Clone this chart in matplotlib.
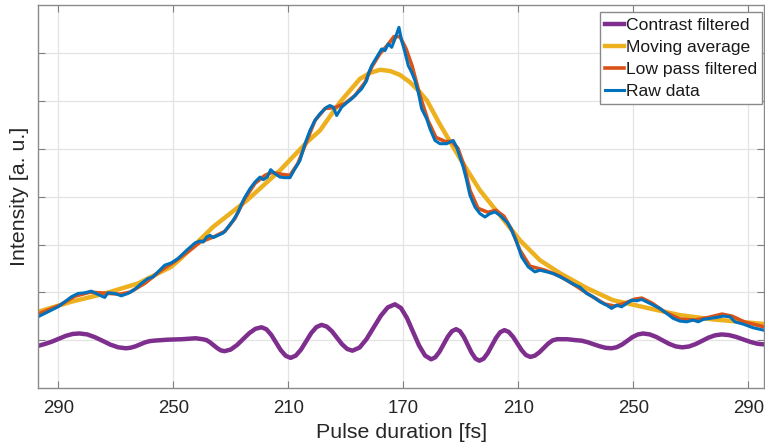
import matplotlib
matplotlib.use("Agg")
import matplotlib.pyplot as plt

# delay in fs relative to the pulse centre, intensity in arbitrary units
raw_delay = [-127.06, -123.58, -120.11, -117.78, -115.48, -113.15, -110.82, -108.52, -106.19, -103.86,
             -102.71, -100.38, -98.09, -95.76, -93.43, -91.13, -88.80, -87.06, -85.32, -82.99,
             -80.70, -78.37, -75.34, -72.45, -70.71, -69.57, -68.38, -67.24, -66.09, -64.35,
             -62.61, -60.87, -59.13, -57.39, -56.21, -55.06, -53.32, -51.58, -49.84, -48.70,
             -47.30, -46.12, -44.63, -42.89, -41.15, -39.41, -37.67, -35.93, -34.19, -32.45,
             -30.71, -28.97, -26.64, -25.50, -24.35, -23.17, -21.43, -19.69, -17.95, -16.21,
             -14.47, -12.73, -12.17, -10.99, -9.25, -7.51, -6.37, -5.22, -4.03, -2.89,
             -1.50, -0.56, 0.59, 1.74, 2.92, 4.07, 5.22, 6.40, 8.14, 9.29,
             11.03, 12.77, 15.10, 17.39, 18.57, 19.72, 20.87, 22.05, 23.20, 24.94,
             26.68, 28.42, 30.16, 31.90, 33.64, 35.37, 36.52, 37.70, 39.44, 41.18,
             43.48, 45.81, 47.55, 49.88, 52.17, 54.50, 56.84, 59.13, 61.46, 63.79,
             66.09, 68.42, 70.75, 72.49, 74.23, 75.97, 77.71, 79.44, 81.18, 82.92,
             84.66, 86.96, 89.29, 91.62, 93.91, 96.24, 98.58, 100.87, 102.61, 104.35,
             106.68, 109.01, 111.31, 113.64, 115.38, 118.26, 121.74, 125.22]
raw_intensity = [1.489, 1.593, 1.697, 1.802, 1.906, 1.977, 1.990, 2.025, 1.956, 1.894,
                 1.990, 1.977, 1.927, 1.977, 2.061, 2.186, 2.290, 2.324, 2.428, 2.568,
                 2.616, 2.708, 2.881, 3.033, 3.075, 3.054, 3.159, 3.194, 3.146, 3.194,
                 3.242, 3.367, 3.507, 3.681, 3.856, 3.994, 4.169, 4.307, 4.411, 4.357,
                 4.411, 4.566, 4.482, 4.411, 4.399, 4.399, 4.587, 4.760, 5.109, 5.386,
                 5.595, 5.735, 5.873, 5.908, 5.873, 5.699, 5.873, 5.965, 6.048, 6.152,
                 6.257, 6.430, 6.570, 6.743, 6.917, 7.092, 7.056, 7.196, 7.125, 7.301,
                 7.543, 7.265, 7.021, 6.743, 6.603, 6.430, 6.186, 5.839, 5.630, 5.422,
                 5.177, 5.109, 5.109, 5.177, 5.038, 4.829, 4.620, 4.342, 4.029, 3.785,
                 3.647, 3.576, 3.647, 3.681, 3.612, 3.507, 3.438, 3.299, 3.054, 2.741,
                 2.532, 2.428, 2.463, 2.428, 2.395, 2.324, 2.255, 2.171, 2.109, 1.977,
                 1.906, 1.802, 1.733, 1.664, 1.733, 1.697, 1.768, 1.837, 1.823, 1.852,
                 1.802, 1.733, 1.664, 1.560, 1.455, 1.399, 1.384, 1.420, 1.384, 1.434,
                 1.455, 1.476, 1.503, 1.489, 1.384, 1.336, 1.259, 1.211]

lowpass_delay = [-127.06, -119.41, -114.19, -108.97, -103.76, -98.54, -95.06, -89.84, -84.63, -79.41,
                 -74.19, -70.71, -65.50, -62.02, -58.54, -55.06, -51.58, -48.10, -45.67, -42.19,
                 -39.41, -36.63, -34.19, -30.71, -27.23, -23.76, -20.28, -16.80, -13.32, -10.89,
                 -8.10, -5.32, -3.23, -1.15, 0.94, 3.03, 5.81, 8.59, 11.37, 14.50,
                 16.94, 19.03, 21.11, 23.20, 25.98, 29.46, 32.24, 35.03, 37.81, 40.59,
                 44.07, 49.29, 54.50, 59.72, 64.94, 70.16, 73.63, 77.11, 80.59, 83.03,
                 86.51, 91.03, 96.24, 101.46, 106.68, 110.85, 114.33, 118.85, 125.81]
lowpass_intensity = [1.545, 1.733, 1.921, 2.004, 1.983, 1.962, 2.004, 2.192, 2.443, 2.651,
                     2.881, 3.048, 3.173, 3.278, 3.549, 3.967, 4.280, 4.447, 4.509, 4.468,
                     4.447, 4.697, 5.073, 5.595, 5.846, 5.866, 5.950, 6.117, 6.388, 6.722,
                     6.994, 7.182, 7.349, 7.349, 7.098, 6.743, 6.117, 5.595, 5.240, 5.157,
                     5.157, 5.010, 4.656, 4.134, 3.758, 3.674, 3.716, 3.591, 3.299, 2.881,
                     2.547, 2.463, 2.338, 2.150, 1.942, 1.754, 1.712, 1.775, 1.858, 1.879,
                     1.775, 1.587, 1.441, 1.420, 1.482, 1.545, 1.503, 1.378, 1.273]

movavg_delay = [-127.06, -115.58, -103.76, -92.28, -80.80, -77.67, -66.19, -54.37, -42.89, -33.50,
                -28.97, -22.02, -15.06, -11.60, -8.10, -4.60, -1.20, 2.33, 5.30, 8.24,
                12.77, 19.72, 26.68, 33.64, 40.59, 47.55, 54.50, 63.90, 72.94, 84.77,
                96.24, 107.72, 119.55, 125.81]
movavg_intensity = [1.593, 1.802, 1.977, 2.186, 2.532, 2.693, 3.367, 3.925, 4.551, 5.142,
                    5.386, 5.977, 6.466, 6.590, 6.655, 6.630, 6.550, 6.395, 6.220, 6.013,
                    5.511, 4.802, 4.134, 3.612, 3.090, 2.672, 2.401, 2.088, 1.837, 1.676,
                    1.524, 1.434, 1.372, 1.336]

contrast_delay = [-127.1, -124.7, -122.2, -119.8, -117.4, -115.0, -112.6,
                  -109.9, -107.2, -104.55, -101.9, -99.2, -96.5,
                  -94.9, -93.2, -91.6, -90.0, -88.3, -86.7,
                  -82.0, -77.0, -72.2, -69.8,
                  -68.5, -67.3, -66.0, -64.7, -63.5, -62.2,
                  -60.05, -57.9, -55.75, -53.6, -51.45, -49.3,
                  -47.6, -45.9, -44.25, -42.6, -40.9, -39.2,
                  -37.4, -35.6, -33.8, -32.0, -30.2, -28.4,
                  -26.6, -24.8, -23.05, -21.3, -19.5, -17.7,
                  -15.2, -12.8, -10.3, -7.8, -5.4, -2.9,
                  -0.8, 1.3, 3.4, 5.5, 7.6, 9.7,
                  11.15, 12.6, 14.05, 15.5, 16.95, 18.4,
                  19.75, 21.1, 22.45, 23.8, 25.15, 26.5,
                  27.95, 29.4, 30.85, 32.3, 33.75, 35.2,
                  36.7, 38.2, 39.7, 41.2, 42.7, 44.2,
                  45.75, 47.3, 48.85, 50.4, 51.95, 53.5,
                  57.0, 60.0,
                  62.07, 64.1, 66.2, 68.3, 70.3, 72.4,
                  74.2, 76.1, 77.9, 79.7, 81.6, 83.4,
                  85.7, 88.0, 90.25, 92.5, 94.8, 97.1,
                  99.4, 101.7, 103.95, 106.2, 108.5, 110.8,
                  113.3, 115.8, 118.3, 120.8, 123.3, 125.8]
contrast_intensity = [0.88, 0.92, 0.97, 1.03, 1.09, 1.13, 1.14,
                      1.12, 1.06, 0.985, 0.907, 0.851, 0.83,
                      0.841, 0.87, 0.91, 0.95, 0.979, 0.99,
                      1.01, 1.02, 1.04, 1.02,
                      1.003, 0.958, 0.895, 0.833, 0.787, 0.77,
                      0.803, 0.895, 1.02, 1.145, 1.237, 1.27,
                      1.227, 1.11, 0.95, 0.79, 0.673, 0.63,
                      0.676, 0.80, 0.975, 1.15, 1.274, 1.32,
                      1.284, 1.185, 1.05, 0.915, 0.816, 0.78,
                      0.845, 1.02, 1.265, 1.51, 1.685, 1.75,
                      1.673, 1.463, 1.175, 0.888, 0.677, 0.60,
                      0.642, 0.758, 0.915, 1.073, 1.188, 1.23,
                      1.186, 1.065, 0.90, 0.735, 0.614, 0.57,
                      0.613, 0.73, 0.89, 1.05, 1.167, 1.21,
                      1.172, 1.07, 0.93, 0.79, 0.688, 0.65,
                      0.675, 0.743, 0.835, 0.928, 0.995, 1.02,
                      1.02, 1.00,
                      0.989, 0.958, 0.915, 0.873, 0.841, 0.83,
                      0.851, 0.908, 0.985, 1.063, 1.119, 1.14,
                      1.121, 1.068, 0.995, 0.923, 0.869, 0.85,
                      0.868, 0.918, 0.985, 1.053, 1.102, 1.12,
                      1.106, 1.068, 1.015, 0.963, 0.924, 0.91]

tick_delay = [-120, -80, -40, 0, 40, 80, 120]
tick_labels = ['290', '250', '210', '170', '210', '250', '290']

plt.rcParams['font.family'] = ['Liberation Sans', 'DejaVu Sans']

fig = plt.figure(figsize=(7.65, 4.43), dpi=100)
ax = fig.add_axes([0.0503, 0.1242, 0.9484, 0.8634])

ax.plot(contrast_delay, contrast_intensity, color='#7E2F8E', lw=3.2, label='Contrast filtered')
ax.plot(movavg_delay, movavg_intensity, color='#EDB120', lw=3.2, label='Moving average')
ax.plot(lowpass_delay, lowpass_intensity, color='#D95319', lw=2.6, label='Low pass filtered')
ax.plot(raw_delay, raw_intensity, color='#0072BD', lw=2.2, label='Raw data')

ax.set_xlim(-126.9, 125.5)
ax.set_ylim(0, 8)
ax.set_xticks(tick_delay)
ax.set_xticklabels(tick_labels)
ax.set_yticks(range(1, 8))
ax.set_yticklabels([])
ax.grid(True, color='#e3e3e3', lw=0.9)
ax.set_axisbelow(True)

ax.tick_params(direction='in', length=5, width=0.8, color='#808080',
               labelsize=13.4, labelcolor='#262626', pad=9,
               top=True, right=True)
for s in ax.spines.values():
    s.set_color('#8a8a8a')
    s.set_linewidth(1.0)

ax.set_xlabel('Pulse duration [fs]', fontsize=15.4, color='#262626', labelpad=4)
ax.set_ylabel('Intensity [a. u.]', fontsize=15.4, color='#262626', labelpad=-2)

leg = ax.legend(loc='upper right', bbox_to_anchor=(0.9977, 0.9822), borderaxespad=0,
                fontsize=12.6, handlelength=1.1, handletextpad=0.1, labelspacing=0.39,
                borderpad=0.3, fancybox=False, framealpha=1, edgecolor='#8a8a8a')
leg.get_frame().set_linewidth(1.0)
for t in leg.get_texts():
    t.set_color('#1a1a1a')

fig.savefig('out.png', dpi=100)
